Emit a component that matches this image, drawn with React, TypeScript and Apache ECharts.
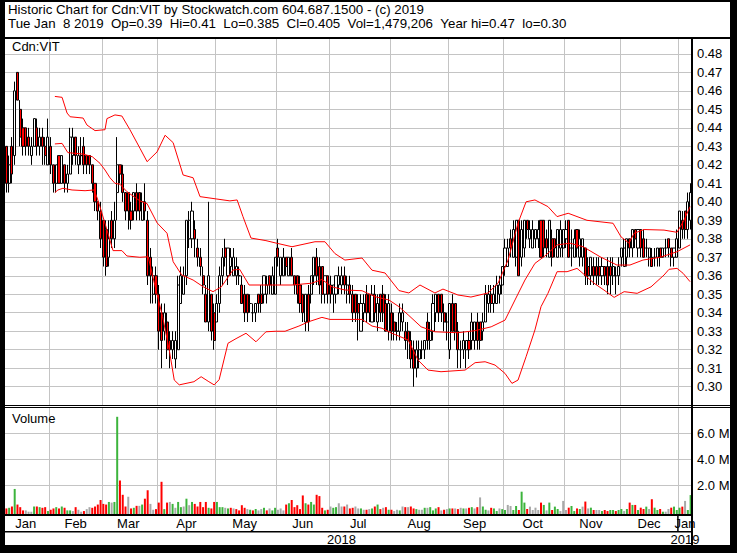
import React, { useEffect, useRef } from 'react';
import * as echarts from 'echarts';

// Daily bars, each [open, close, low, high]
const jan18 = [
  [.43,.41,.405,.43],[.41,.42,.405,.425],[.43,.415,.41,.435],[.425,.46,.42,.465],[.47,.455,.455,.47],
  [.45,.435,.43,.455],[.44,.43,.425,.445],[.44,.43,.425,.44],[.435,.43,.425,.44],[.425,.43,.42,.435],
  [.43,.445,.43,.445],[.44,.43,.425,.445],[.43,.435,.425,.44],[.435,.43,.42,.44],[.43,.425,.42,.435],
  [.42,.435,.42,.445]];
const feb18 = [
  [.43,.42,.415,.435],[.42,.41,.405,.42],[.41,.42,.405,.42],[.425,.41,.41,.425],[.41,.425,.41,.425],
  [.42,.41,.405,.42],[.41,.415,.405,.42],[.415,.435,.415,.44],[.425,.435,.42,.44],[.435,.425,.42,.435],
  [.42,.425,.415,.43],[.425,.425,.42,.435],[.43,.42,.415,.435],[.425,.42,.415,.425],[.425,.42,.415,.425],
  [.42,.41,.405,.42],[.41,.40,.395,.41],[.40,.395,.39,.40],[.395,.38,.375,.40]];
const mar18 = [
  [.39,.37,.365,.39],[.385,.365,.36,.39],[.37,.38,.365,.39],[.39,.38,.375,.395],[.38,.39,.375,.40],
  [.405,.42,.39,.435],[.42,.415,.41,.42],[.415,.405,.40,.42],[.405,.395,.39,.405],[.405,.395,.385,.405],
  [.395,.39,.385,.40],[.395,.405,.39,.405],[.405,.395,.39,.41],[.405,.395,.39,.405],[.39,.40,.39,.405],
  [.40,.395,.39,.41],[.39,.36,.355,.395],[.37,.36,.345,.375],[.35,.36,.345,.365],[.36,.35,.345,.365]];
const apr18 = [
  [.35,.33,.32,.355],[.34,.325,.31,.345],[.33,.34,.325,.345],[.335,.32,.315,.34],[.325,.32,.31,.33],
  [.32,.325,.315,.33],[.315,.325,.31,.33],[.32,.355,.32,.36],[.345,.36,.345,.365],[.35,.36,.35,.365],
  [.36,.39,.355,.39],[.38,.39,.375,.395],[.38,.395,.375,.40],[.385,.38,.37,.39],[.375,.37,.365,.38],
  [.37,.365,.36,.375],[.36,.355,.35,.365],[.35,.335,.335,.355],[.335,.36,.33,.40],[.35,.33,.325,.35],
  [.34,.325,.32,.345]];
const may18 = [
  [.335,.345,.335,.35],[.345,.36,.34,.365],[.36,.37,.355,.375],[.375,.37,.365,.38],[.36,.375,.355,.375],
  [.365,.37,.36,.375],[.36,.37,.36,.375],[.36,.365,.355,.37],[.36,.36,.355,.365],[.355,.345,.345,.36],
  [.35,.34,.335,.355],[.35,.34,.335,.35],[.345,.345,.34,.35],[.34,.34,.335,.345],[.34,.345,.335,.345],
  [.35,.345,.34,.35],[.35,.345,.34,.355],[.35,.36,.345,.36],[.35,.355,.345,.36],[.36,.355,.35,.36],
  [.35,.36,.35,.365],[.35,.37,.35,.37]];
const jun18 = [
  [.375,.37,.365,.38],[.36,.37,.355,.37],[.36,.37,.36,.375],[.37,.365,.36,.37],[.36,.37,.36,.37],
  [.37,.36,.36,.375],[.36,.355,.35,.36],[.36,.35,.345,.36],[.355,.345,.34,.36],[.35,.34,.335,.35],
  [.335,.35,.33,.35],[.35,.335,.33,.355],[.35,.36,.345,.36],[.36,.37,.355,.37],[.37,.36,.355,.375],
  [.365,.355,.35,.37],[.365,.35,.345,.365],[.35,.36,.345,.36],[.36,.35,.345,.36]];
const jul18 = [
  [.355,.35,.345,.36],[.35,.355,.34,.355],[.35,.36,.345,.36],[.355,.36,.35,.365],[.355,.36,.35,.365],
  [.36,.355,.35,.365],[.35,.355,.345,.36],[.355,.35,.345,.36],[.35,.34,.335,.355],[.35,.34,.335,.35],
  [.345,.34,.325,.35],[.33,.345,.33,.35],[.34,.345,.335,.35],[.35,.34,.335,.355],[.35,.34,.335,.35],
  [.335,.35,.335,.355],[.35,.34,.335,.355],[.335,.345,.33,.35],[.35,.34,.335,.35],[.35,.34,.335,.355],
  [.345,.33,.33,.35],[.33,.345,.325,.35]];
const aug18 = [
  [.34,.33,.325,.345],[.335,.33,.325,.34],[.33,.33,.325,.335],[.33,.34,.325,.345],[.335,.34,.33,.345],
  [.33,.325,.32,.335],[.33,.325,.315,.335],[.325,.315,.31,.33],[.32,.31,.30,.325],[.31,.32,.305,.325],
  [.315,.32,.31,.325],[.32,.32,.315,.325],[.32,.325,.315,.325],[.335,.325,.32,.34],[.325,.33,.32,.335],
  [.33,.345,.325,.35],[.34,.35,.335,.35],[.35,.34,.335,.35],[.35,.34,.335,.35],[.34,.335,.33,.345],
  [.335,.335,.325,.34]];
const sep18 = [
  [.32,.345,.315,.345],[.345,.33,.33,.35],[.345,.33,.325,.345],[.33,.32,.31,.335],[.32,.32,.31,.325],
  [.32,.325,.315,.33],[.32,.325,.31,.325],[.325,.32,.315,.33],[.325,.335,.32,.34],[.325,.335,.32,.335],
  [.335,.325,.32,.34],[.335,.325,.32,.335],[.33,.335,.325,.34],[.335,.35,.335,.355],[.345,.35,.34,.355],
  [.35,.345,.34,.355],[.345,.35,.34,.355],[.345,.355,.345,.36],[.35,.355,.345,.36],[.355,.365,.35,.365]];
const oct18 = [
  [.365,.375,.36,.38],[.365,.375,.365,.38],[.38,.375,.37,.385],[.37,.385,.37,.39],[.37,.39,.365,.39],
  [.39,.36,.36,.39],[.37,.385,.365,.39],[.375,.39,.37,.39],[.39,.385,.38,.39],[.38,.385,.375,.39],
  [.375,.385,.375,.39],[.38,.385,.375,.385],[.38,.385,.375,.39],[.39,.37,.37,.39],[.39,.375,.37,.39],
  [.38,.375,.37,.385],[.37,.39,.37,.39],[.38,.37,.365,.385],[.38,.375,.37,.38],[.37,.385,.37,.385],
  [.375,.385,.37,.39],[.375,.385,.37,.385]];
const nov18 = [
  [.38,.385,.375,.39],[.39,.37,.37,.39],[.375,.375,.365,.385],[.37,.38,.37,.385],[.385,.375,.37,.385],
  [.37,.38,.365,.385],[.37,.38,.365,.38],[.375,.36,.355,.375],[.365,.36,.355,.37],[.36,.37,.355,.37],
  [.365,.36,.355,.37],[.365,.36,.355,.37],[.365,.36,.355,.37],[.36,.365,.355,.37],[.365,.36,.355,.365],
  [.365,.355,.35,.37],[.365,.36,.35,.37],[.36,.365,.355,.37],[.36,.36,.35,.365],[.36,.365,.355,.37]];
const dec18 = [
  [.37,.375,.365,.375],[.365,.375,.365,.38],[.37,.38,.365,.38],[.38,.375,.37,.38],[.375,.385,.37,.385],
  [.385,.38,.375,.385],[.375,.385,.37,.385],[.385,.375,.37,.385],[.38,.37,.37,.385],[.375,.375,.37,.38],
  [.37,.375,.365,.375],[.37,.365,.365,.375],[.37,.37,.365,.375],[.37,.375,.365,.375],[.375,.37,.365,.375],
  [.37,.375,.37,.375],[.375,.375,.37,.38],[.38,.375,.37,.38],[.375,.37,.365,.375],[.37,.375,.365,.375],
  [.37,.38,.37,.385]];
const jan19 = [
  [.375,.395,.375,.395],[.39,.385,.38,.395],[.395,.385,.38,.395],[.385,.40,.38,.405],[.39,.405,.385,.41]];

// Daily volume, millions of shares
const volJan18 = [0.45,0.5,0.6,1.95,0.75,0.55,0.3,0.3,0.2,0.2,0.6,0.6,0.55,0.5,0.55,0.25];
const volFeb18 = [0.35,0.45,0.55,0.45,0.6,0.5,0.3,0.3,0.25,0.55,0.35,0.2,0.25,0.4,0.55,0.5,0.6,0.75,1.1];
const volMar18 = [0.8,0.75,0.95,0.9,0.95,7.5,2.6,1.5,0.6,1.35,0.45,0.5,0.65,0.65,0.75,1.2,1.85,0.8,0.35,0.4];
const volApr18 = [0.9,2.5,0.4,0.9,0.95,0.8,0.5,0.95,0.55,0.6,1.2,0.7,0.95,0.8,0.6,0.95,0.55,0.95,0.5,0.45,0.95];
const volMay18 = [0.95,0.55,0.55,0.5,0.45,0.5,0.45,0.4,0.3,0.7,0.5,0.4,0.35,0.3,0.4,0.3,0.4,0.5,0.3,0.45,0.3,0.5];
const volJun18 = [0.35,0.45,0.3,0.75,0.85,1.1,0.55,0.7,0.4,1.45,0.85,0.75,0.95,0.75,1.5,1.4,0.5,0.3,0.35];
const volJul18 = [0.6,0.5,0.55,0.85,0.6,0.6,0.75,0.45,0.5,0.6,0.45,0.45,0.35,0.35,0.4,0.45,0.6,0.75,0.4,0.5,0.55,0.35];
const volAug18 = [0.35,0.25,0.35,0.3,0.6,0.55,0.55,0.6,0.45,0.4,0.35,0.35,0.5,0.5,0.55,0.3,0.45,0.55,0.3,0.35,0.4];
const volSep18 = [0.45,0.45,0.45,0.4,0.5,0.45,0.45,0.5,0.55,0.45,0.55,1.3,0.6,0.35,0.3,0.5,0.45,0.25,0.45,0.4];
const volOct18 = [0.33,0.72,0.64,0.33,0.64,0.33,1.74,0.9,0.41,0.59,0.33,0.51,0.33,0.9,0.72,0.3,0.9,0.33,0.59,0.41,0.25,1.03];
const volNov18 = [0.33,0.51,0.64,0.25,0.45,0.41,0.59,0.98,0.45,0.51,0.33,0.33,0.33,0.25,0.33,0.25,0.33,0.33,0.25,0.33];
const volDec18 = [0.41,0.25,0.41,0.9,0.72,0.72,0.33,0.51,0.41,0.59,0.41,1.16,0.51,0.33,0.41,0.2,0.2,0.41,0.51,0.59,0.33];
const volJan19 = [0.51,0.59,1.03,0.33,1.48];

const monthNames = ['Jan','Feb','Mar','Apr','May','Jun','Jul','Aug','Sep','Oct','Nov','Dec','Jan'];
const yearLabels = ['2018', '2019'];

// Bollinger bands: [bar position, price]
const upperBand = [
  [17.5,.457],[20.1,.4565],[21.9,.448],[23,.446],[27.7,.4453],[29.1,.4415],[32,.4385],[35.6,.439],[36.3,.445],
  [39.2,.447],[41.7,.4464],[44.6,.439],[48.2,.429],[50.8,.4217],[54.4,.427],[57.3,.436],[60.2,.432],[63.8,.4145],
  [67.4,.413],[69.9,.4028],[76,.4015],[80.7,.4005],[83.3,.401],[85.4,.392],[88.3,.3804],[93.7,.379],[97.3,.3777],
  [103.1,.3757],[111.4,.3784],[115,.3784],[118.6,.372],[122.2,.3685],[128.4,.3696],[132,.363],[136.7,.3615],
  [141.7,.352],[145.3,.3507],[149.3,.355],[154.7,.3507],[157.6,.3528],[163,.3496],[167.7,.3485],[173.9,.3507],
  [177.5,.356],[181.1,.3685],[184.7,.3885],[187.6,.4],[190.8,.401],[195.5,.3974],[198.8,.392],[202.8,.3938],
  [209.6,.39],[219,.3884],[221.9,.381],[224.8,.3776],[226.6,.383],[230.2,.385],[237.4,.3847],[242.1,.3835],
  [244.6,.39],[246.8,.3974]];
const middleBand = [
  [17.5,.4313],[20.1,.4316],[22.2,.4266],[27.7,.4258],[31,.4244],[33.8,.4208],[35.6,.4172],[37.4,.413],[39.2,.41],
  [41,.4095],[43.5,.4055],[48.2,.4005],[50.8,.399],[54.4,.3886],[58,.383],[60.2,.3676],[63.3,.3604],[67.4,.3577],
  [71,.3541],[74.6,.3514],[77.6,.354],[81.8,.3631],[84.2,.3635],[87.6,.355],[92.6,.355],[97.3,.355],[103.1,.355],
  [110.3,.356],[113.9,.358],[117.6,.354],[122.2,.3523],[128.4,.3519],[133.1,.3487],[138.1,.3469],[141.7,.3433],
  [145.3,.3385],[149.7,.3324],[154.7,.3297],[163,.3292],[169.2,.3303],[175,.3324],[180,.336],[183.6,.3469],
  [187.2,.3577],[190.8,.3667],[194.4,.3707],[198.8,.3767],[203.5,.3776],[208.2,.3757],[214.3,.3703],[220.4,.3658],
  [225.1,.3658],[229.8,.3685],[236,.37],[242.1,.373],[246.8,.3767]];
const lowerBand = [
  [17.5,.405],[18.6,.4064],[20.4,.4073],[23.7,.4064],[28.4,.406],[31.6,.4064],[32.7,.4024],[33.8,.3973],[36.3,.3848],
  [38.5,.3736],[41.7,.3736],[43.5,.3707],[48.2,.37],[51.2,.3703],[54,.3523],[56.4,.3379],[58.8,.3198],[60.6,.3036],
  [62.4,.301],[67.7,.3027],[70.3,.3054],[73.1,.3027],[75,.301],[76.8,.3038],[80,.3235],[82.9,.326],[86.5,.3289],
  [90.1,.3243],[93.7,.3297],[97.3,.33],[100.6,.33],[105.6,.3328],[109.2,.3352],[113.9,.3375],[116.8,.3364],
  [124.8,.3364],[128.4,.3364],[132,.3328],[135.6,.3316],[139.2,.3289],[145,.3253],[148.6,.3144],[152.2,.309],
  [156.9,.3081],[165.6,.309],[169.2,.313],[172.8,.3135],[176.4,.3117],[180,.3072],[182.5,.3018],[184.7,.3036],
  [187.6,.3162],[190.8,.3307],[193,.3433],[195.5,.3505],[198.8,.3622],[202.4,.3622],[206,.364],[207.8,.3617],
  [212.1,.356],[215.7,.3523],[219.4,.3483],[223,.3514],[227.7,.3505],[232.7,.354],[237.4,.3604],[239.2,.3635],
  [242.1,.364],[244.3,.3613],[246.8,.3568]];

const NB = '\u00a0';
const titleLine1 = 'Historic Chart for Cdn:VIT by Stockwatch.com 604.687.1500 - (c) 2019';
const titleLine2 = `Tue Jan ${NB}8 2019 ${NB}Op=0.39 ${NB}Hi=0.41 ${NB}Lo=0.385 ${NB}Cl=0.405 ${NB}Vol=1,479,206 ${NB}Year hi=0.47 ${NB}lo=0.30`;
const symbolLabel = 'Cdn:VIT';
const volumeLabel = 'Volume';

const monthBars = [jan18, feb18, mar18, apr18, may18, jun18, jul18, aug18, sep18, oct18, nov18, dec18, jan19];
const monthVols = [volJan18, volFeb18, volMar18, volApr18, volMay18, volJun18, volJul18, volAug18, volSep18, volOct18, volNov18, volDec18, volJan19];

const FONT = 'Liberation Sans, Arial, Helvetica, sans-serif';

export default function App() {
  const ref = useRef<HTMLDivElement>(null);
  useEffect(() => {
    if (!ref.current) return;
    const chart = echarts.init(ref.current, null, { renderer: 'svg' });

    const candles = monthBars.flat();
    const volumes = monthVols.flat();
    const N = candles.length;
    const cats = candles.map((_, i) => String(i));
    const monthStarts: number[] = [];
    let acc = 0;
    monthBars.forEach((m) => { monthStarts.push(acc); acc += m.length; });
    const splitSet = new Set(monthStarts.slice(1));
    const labelMap = new Map<number, string>();
    monthBars.forEach((m, k) => labelMap.set(monthStarts[k] + Math.floor((m.length - 1) / 2), monthNames[k]));

    const volData = volumes.map((v, i) => {
      const c = candles[i][1];
      const prev = i > 0 ? candles[i - 1][1] : candles[i][0];
      const color = c > prev ? '#3cb43c' : c < prev ? '#ff0000' : '#a8a8a8';
      return { value: v, itemStyle: { color } };
    });

    const L = 5, R = 692, plotW = R - L;
    const yearStart = monthStarts[12];
    const xAt = (idx: number) => L + (idx / N) * plotW;
    const gridColor = '#c4c4c4';
    const splitX = { show: true, interval: (i: number) => splitSet.has(i), lineStyle: { color: gridColor, width: 1 } };

    const txt = (text: string, x: number, y: number, align = 'left', size = 13, z = 51) => ({
      type: 'text', z, x: 0, y: 0,
      style: { text, x, y, fill: '#000', fontSize: size, fontFamily: FONT, align, verticalAlign: 'middle', textAlign: align, textVerticalAlign: 'middle' },
    });
    const box = (x: number, y: number, w: number, h: number, fill = '#000', z = 60) => ({
      type: 'rect', z, shape: { x, y, width: w, height: h }, style: { fill },
    });

    chart.setOption({
      animation: false,
      backgroundColor: '#ffffff',
      grid: [
        { left: L, right: 737 - R, top: 35.4, bottom: 553 - 405.2 },
        { left: L, right: 737 - R, top: 410.3, bottom: 553 - 514.3 },
        { left: L, right: 737 - R, top: 407.3, bottom: 553 - 511.3 },
      ],
      xAxis: [
        { type: 'category', gridIndex: 0, data: cats, axisLine: { show: false }, axisTick: { show: false }, axisLabel: { show: false }, splitLine: splitX },
        { type: 'value', gridIndex: 0, min: -0.5, max: N - 0.5, show: false },
        {
          type: 'category', gridIndex: 1, data: cats, axisLine: { show: false }, axisTick: { show: false },
          axisLabel: {
            interval: (i: number) => labelMap.has(i),
            formatter: (_v: string, i: number) => labelMap.get(i) || '',
            color: '#000', fontSize: 13, fontFamily: FONT, margin: 8.7, verticalAlign: 'middle',
          },
          splitLine: splitX,
        },
        { type: 'category', gridIndex: 2, data: cats, axisLine: { show: false }, axisTick: { show: false }, axisLabel: { show: false }, splitLine: splitX },
      ],
      yAxis: [
        {
          type: 'value', gridIndex: 0, position: 'right', min: 0.29, max: 0.49, interval: 0.01,
          axisLine: { show: false }, axisTick: { show: false },
          axisLabel: { margin: 5, color: '#000', fontSize: 13, fontFamily: FONT, formatter: (v: number) => (v > 0.295 && v < 0.485 ? v.toFixed(2) : '') },
          splitLine: { show: true, showMinLine: false, showMaxLine: false, lineStyle: { color: gridColor, width: 1 } },
        },
        { type: 'value', gridIndex: 1, min: 0, max: 8, show: false },
        {
          type: 'value', gridIndex: 2, position: 'right', min: 0, max: 8, interval: 2,
          axisLine: { show: false }, axisTick: { show: false },
          axisLabel: { margin: 5, color: '#000', fontSize: 13, fontFamily: FONT, formatter: (v: number) => (v > 0 && v < 8 ? v.toFixed(1) + ' M' : '') },
          splitLine: { show: true, showMinLine: false, showMaxLine: false, lineStyle: { color: gridColor, width: 1 } },
        },
      ],
      series: [
        {
          type: 'candlestick', xAxisIndex: 0, yAxisIndex: 0, data: candles, barWidth: 2.6,
          itemStyle: { color: '#ffffff', color0: '#ff0000', borderColor: '#000', borderColor0: '#000', borderColorDoji: '#000', borderWidth: 1 },
          z: 3,
        },
        ...[upperBand, middleBand, lowerBand].map((band) => ({
          type: 'line', xAxisIndex: 1, yAxisIndex: 0, data: band, symbol: 'none', showSymbol: false,
          lineStyle: { color: '#ff0000', width: 1 }, z: 5, silent: true,
        })),
        { type: 'bar', xAxisIndex: 2, yAxisIndex: 1, data: volData, barWidth: 2, z: 3 },
      ],
      graphic: { elements: [
        box(5, 2, 725, 35, '#ffffff', 50),
        txt(titleLine1, 8, 9, 'left', 13.3),
        txt(titleLine2, 8, 23.5, 'left', 13.3),
        txt(symbolLabel, 12, 46.4),
        txt(volumeLabel, 12, 418.3),
        txt(yearLabels[0], xAt(yearStart / 2), 539.3, 'center'),
        txt(yearLabels[1], xAt((yearStart + N) / 2), 539.3, 'center'),
        box(0, 0, 737, 2),
        box(0, 0, 5, 553),
        box(730, 0, 7, 553),
        box(0, 545, 737, 8),
        box(5, 37, 725, 2),
        box(5, 405, 725, 1),
        box(5, 407, 725, 1),
        box(5, 514, R - 5, 2),
        box(5, 531, R - 5, 1.5),
        box(R - 1, 37, 2, 508),
        box(xAt(yearStart) - 1, 516, 1.5, 15),
      ] },
    });
    return () => chart.dispose();
  }, []);
  return <div ref={ref} style={{ position: 'absolute', left: 0, top: 0, width: 737, height: 553 }} />;
}
